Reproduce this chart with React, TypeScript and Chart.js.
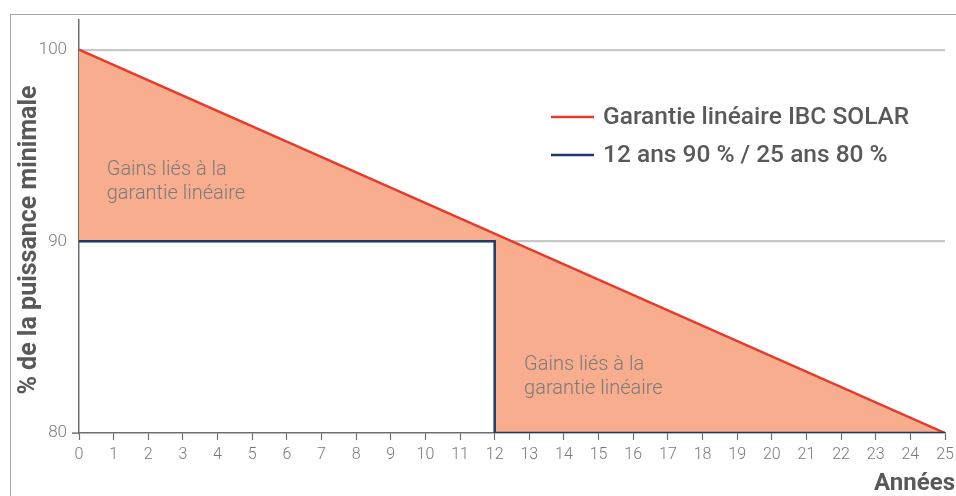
import React, { useEffect, useRef } from "react";
import { Chart, registerables } from "chart.js";

Chart.register(...registerables);

const years = Array.from({ length: 26 }, (_, i) => i);
const linearLabel = "Garantie linéaire IBC SOLAR";
const linearPoints = [
  { x: 0, y: 100 },
  { x: 25, y: 80 },
];
const stepLabel = "12 ans 90 % / 25 ans 80 %";
const stepPoints = [
  { x: 0, y: 90 },
  { x: 12, y: 90 },
  { x: 12, y: 80 },
  { x: 25, y: 80 },
];
const yTickValues = [80, 90, 100];
const gainsLines = ["Gains liés à la", "garantie linéaire"];
const gainsAnchors = [
  { x: 0.8, y: 93.7 },
  { x: 12.85, y: 83.55 },
];
const yTitle = "% de la puissance minimale";
const xTitle = "Années";

const RED = "#e8392a";
const NAVY = "#1b3a6b";
const FILL = "#f8ae8e";
const FONT = "Roboto, 'Liberation Sans', sans-serif";

const overlayPlugin = {
  id: "overlay",
  afterDraw(chart: any) {
    const ctx = chart.ctx;
    const xs = chart.scales.x;
    const ys = chart.scales.y;
    ctx.save();
    // annotations
    ctx.fillStyle = "#7a7a7a";
    ctx.font = `300 20px ${FONT}`;
    ctx.textAlign = "left";
    ctx.textBaseline = "middle";
    gainsAnchors.forEach((a) => {
      const px = xs.getPixelForValue(a.x);
      const py = ys.getPixelForValue(a.y);
      gainsLines.forEach((t, i) => ctx.fillText(t, px, py + i * 24));
    });
    // legend
    const ds = chart.data.datasets;
    ctx.font = `500 24.5px ${FONT}`;
    ctx.fillStyle = "#58595b";
    [0, 1].forEach((i) => {
      const y = 117 + i * 38;
      ctx.strokeStyle = ds[i].borderColor;
      ctx.lineWidth = 2.5;
      ctx.beginPath();
      ctx.moveTo(551, y);
      ctx.lineTo(594, y);
      ctx.stroke();
      ctx.fillText(ds[i].label, 603, y + 1);
    });
    // axis titles
    ctx.font = `bold 25px ${FONT}`;
    ctx.fillStyle = "#58595b";
    ctx.save();
    ctx.translate(30, 240);
    ctx.rotate(-Math.PI / 2);
    ctx.textAlign = "center";
    ctx.fillText(yTitle, 0, 0);
    ctx.restore();
    ctx.font = `bold 24px ${FONT}`;
    ctx.textAlign = "right";
    ctx.fillText(xTitle, 955, 484);
    ctx.restore();
  },
};

export default function App() {
  const ref = useRef<HTMLCanvasElement | null>(null);
  useEffect(() => {
    if (!ref.current) return;
    const chart = new Chart(ref.current, {
      type: "line",
      data: {
        datasets: [
          {
            label: linearLabel,
            data: linearPoints,
            borderColor: RED,
            borderWidth: 2.5,
            pointRadius: 0,
            fill: { target: 1, above: FILL, below: FILL },
            backgroundColor: FILL,
            tension: 0,
            order: 1,
          },
          {
            label: stepLabel,
            data: stepPoints,
            borderColor: NAVY,
            borderWidth: 2.5,
            pointRadius: 0,
            fill: false,
            tension: 0,
            order: 0,
          },
        ],
      },
      options: {
        animation: false,
        responsive: false,
        devicePixelRatio: 1,
        layout: { padding: { left: 0, right: 11, top: 20, bottom: 0 } },
        plugins: { legend: { display: false }, tooltip: { enabled: false } },
        scales: {
          x: {
            type: "linear",
            min: 0,
            max: 25,
            afterBuildTicks: (s: any) => {
              s.ticks = years.map((v) => ({ value: v }));
            },
            afterFit: (s: any) => {
              s.height = 63;
              s.paddingLeft = 0;
              s.paddingRight = 0;
            },
            border: { display: true, color: "#6d6e70", width: 1.5 },
            grid: {
              display: true,
              drawOnChartArea: false,
              drawTicks: true,
              tickLength: 7,
              tickColor: "#6d6e70",
              tickWidth: 1.2,
            },
            ticks: {
              color: "#7a7a7a",
              font: { family: FONT, size: 16, weight: "300" as any },
              padding: 5,
              maxRotation: 0,
              autoSkip: false,
            },
          },
          y: {
            type: "linear",
            min: 80,
            max: 101.55,
            afterBuildTicks: (s: any) => {
              s.ticks = yTickValues.map((v) => ({ value: v }));
            },
            afterFit: (s: any) => {
              s.width = 79;
              s.paddingTop = 0;
              s.paddingBottom = 0;
            },
            border: { display: true, color: "#6d6e70", width: 1.5 },
            grid: {
              color: (c: any) => (c.tick && c.tick.value === 80 ? "rgba(0,0,0,0)" : "#c8c8ca"),
              lineWidth: 2.2,
              drawTicks: true,
              tickLength: 7,
              tickColor: (c: any) => (c.tick && c.tick.value === 80 ? "#6d6e70" : "rgba(0,0,0,0)"),
              tickWidth: 1.5,
            },
            ticks: {
              color: "#7a7a7a",
              font: { family: FONT, size: 17, weight: "300" as any },
              padding: 5,
            },
          },
        },
      },
      plugins: [overlayPlugin],
    });
    return () => chart.destroy();
  }, []);

  return (
    <div style={{ position: "fixed", left: 0, top: 0, width: 956, height: 496, background: "#fff" }}>
      <div
        style={{
          position: "absolute",
          left: 10,
          top: 14,
          right: 0,
          bottom: 0,
          borderTop: "1.5px solid #a7a9ac",
          borderLeft: "1.5px solid #a7a9ac",
        }}
      />
      <canvas ref={ref} width={956} height={496} style={{ position: "absolute", left: 0, top: 0, width: 956, height: 496 }} />
    </div>
  );
}
